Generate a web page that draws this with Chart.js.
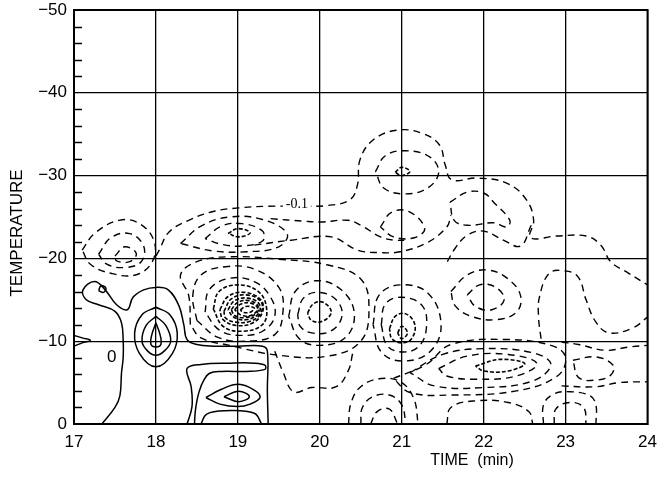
<!DOCTYPE html>
<html>
<head>
<meta charset="utf-8">
<script src="https://cdn.jsdelivr.net/npm/chart.js@4.4.1/dist/chart.umd.min.js"></script>
<style>
html, body { margin: 0; padding: 0; background: #fff; }
</style>
</head>
<body>
<canvas id="contour" width="665" height="489"></canvas>
<script>
// axis ticks
var timeTicks = [17, 18, 19, 20, 21, 22, 23, 24];
var tempTicks = [0, -10, -20, -30, -40, -50];

// solid (zero / positive) contours, [time, temperature]
var zeroContour = [[17.34,0],[17.5,-2],[17.56,-3.4],[17.58,-6.2],[17.6,-8],[17.6,-10.1],[17.58,-12.2],[17.5,-13.6],[17.3,-14.4],[17.15,-15],[17.11,-16.2],[17.25,-17.2],[17.38,-16.2],[17.52,-14.4],[17.65,-13.8],[17.72,-15.3],[17.85,-16.2],[18.0,-16.5],[18.15,-16.2],[18.28,-14.3],[18.34,-12],[18.38,-10.2],[18.5,-9.6],[18.7,-9.4],[19.0,-9.4],[19.3,-9.4],[19.36,-8.8],[19.36,-4],[19.37,0]];
var leftWedge = [[17,-10.7],[17.1,-10.4],[17.2,-10.1],[17.1,-9.8],[17,-9.4]];
var tailBlob = [[17.3,-16.1],[17.33,-16.7],[17.39,-16.4],[17.36,-15.9],[17.3,-16.1]];
var peak18Ring1 = [[18,-14.1],[18.17,-13.2],[18.26,-11],[18.2,-8.5],[18,-6.9],[17.8,-8.5],[17.74,-11],[17.83,-13.2],[18,-14.1]];
var peak18Ring2 = [[18,-13],[18.12,-11.9],[18.18,-10],[18.1,-8.8],[18,-8.3],[17.9,-8.8],[17.83,-10],[17.88,-11.9],[18,-13]];
var peak18Eye = [[18,-12.2],[18.05,-10.8],[18.06,-9.6],[18,-9.3],[17.94,-9.6],[17.95,-10.8],[18,-12.2]];
var boxContour = [[18.38,0],[18.44,-2.1],[18.43,-4.5],[18.38,-6.7],[18.55,-7.2],[18.9,-7.35],[19.2,-7.35],[19.33,-7.1],[19.33,-6.6],[19.1,-6.35],[18.8,-6.35],[18.65,-6.1],[18.58,-5.2],[18.53,-4],[18.5,-2.8],[18.48,-1.5],[18.47,0]];
var diamondRing = [[18.61,-3.2],[18.8,-4.2],[19.01,-4.8],[19.2,-4.1],[19.27,-3.2],[19.15,-2.4],[19.0,-2.1],[18.78,-2.4],[18.61,-3.2]];
var diamondEye = [[18.83,-3.3],[19.01,-3.95],[19.14,-3.3],[19.01,-2.7],[18.83,-3.3]];
var bottomArc = [[18.55,0],[18.62,-1.2],[18.85,-1.6],[19.2,-1.3],[19.29,0]];

// dashed (negative) contours
var outerContour = [[18.0,-20.3],[18.04,-21],[18.16,-23.2],[18.4,-24.6],[18.71,-25.7],[19.01,-26.1],[19.37,-26.3],[19.74,-26.3],[20.1,-26.4],[20.37,-27.1],[20.46,-28.9],[20.49,-31.9],[20.65,-34.3],[20.95,-35.5],[21.25,-35.1],[21.46,-33.7],[21.53,-31.3],[21.61,-29.5],[21.92,-29.7],[22.28,-29.1],[22.52,-27.1],[22.61,-24.6],[22.57,-22.5],[22.89,-22.7],[23.25,-22.7],[23.43,-21.6],[23.55,-19.6],[23.77,-18.2],[24,-16.8]];
var ring17a = [[17.1,-21],[17.25,-23],[17.55,-24.6],[17.8,-24.2],[17.98,-22],[17.95,-19.5],[17.75,-18],[17.45,-18.2],[17.2,-19.3],[17.1,-21]];
var ring17b = [[17.3,-20.5],[17.45,-22.5],[17.68,-23],[17.85,-21.5],[17.82,-19.6],[17.62,-18.9],[17.4,-19.3],[17.3,-20.5]];
var ring17c = [[17.5,-20.3],[17.62,-21.4],[17.76,-20.6],[17.68,-19.6],[17.52,-19.7],[17.5,-20.3]];
var ring19topA = [[18.3,-21.8],[18.55,-23.9],[18.9,-25],[19.3,-24.7],[19.6,-23],[19.5,-21.4],[19.1,-20.8],[18.7,-20.9],[18.3,-21.8]];
var ring19topB = [[18.6,-22.4],[18.8,-23.9],[19.05,-24.2],[19.3,-23.3],[19.3,-22.1],[19.05,-21.5],[18.8,-21.7],[18.6,-22.4]];
var ring19topC = [[18.88,-23],[19.0,-23.6],[19.15,-23.1],[19.02,-22.6],[18.88,-23]];
var arc20upper = [[19.4,-24.8],[19.8,-24.5],[20.02,-24.4],[20.34,-24.6],[20.5,-24],[20.74,-22.6],[20.91,-22.2],[21.03,-22.2]];
var arc20lower = [[19.2,-21.6],[19.65,-22.2],[20.14,-22.6],[20.46,-21],[20.74,-20.7],[20.98,-20.8],[21.31,-21.9],[21.55,-23.8],[21.6,-25.2]];
var ring21top = [[20.68,-30.5],[20.8,-32.4],[21.05,-33],[21.35,-32.2],[21.45,-30.3],[21.3,-28.4],[21.02,-27.8],[20.78,-28.5],[20.68,-30.5]];
var ring21topEye = [[20.92,-30.4],[21.0,-31.0],[21.1,-30.5],[21.0,-30.0],[20.92,-30.4]];
var ring21mid = [[20.74,-23.8],[20.88,-25.6],[21.1,-25.6],[21.28,-23.6],[21.15,-22.5],[20.9,-22.6],[20.74,-23.8]];
var ring22top = [[21.59,-26.8],[21.8,-28],[22.0,-27.9],[22.13,-26.7],[22.32,-24.6],[22.28,-23.8],[22.12,-24.3],[21.8,-24],[21.64,-24.6],[21.59,-26.8]];
var arc22split = [[22.58,-24],[22.45,-21.5],[22.24,-22.2],[22.0,-23.3],[21.8,-22.8],[21.65,-21.2],[21.55,-19.5]];
var loop23 = [[22.7,-10.3],[22.67,-12.9],[22.68,-15.3],[22.8,-18.2],[22.98,-18.5],[23.15,-17.8],[23.25,-15],[23.37,-12.3],[23.53,-11],[23.82,-11.6],[24,-12.9]];
var ring22midA = [[21.6,-16],[21.8,-18],[22.05,-18.6],[22.3,-17.5],[22.45,-15.5],[22.4,-13.5],[22.15,-12.6],[21.85,-13],[21.65,-14.3],[21.6,-16]];
var ring22midB = [[21.8,-15.6],[21.95,-16.8],[22.15,-16.5],[22.25,-15],[22.1,-13.8],[21.9,-14.2],[21.8,-15.6]];
var wide19 = [[18.42,-12],[18.4,-15.5],[18.3,-18],[18.5,-19.6],[18.9,-20.2],[19.5,-19.9],[20.1,-19.2],[20.5,-17.5],[20.6,-14],[20.5,-10],[20.1,-8.2],[19.5,-8.3],[18.9,-9.5],[18.55,-10.4],[18.42,-12]];
var blob19A = [[18.5,-12.5],[18.45,-15.5],[18.55,-18],[18.85,-19],[19.2,-18.7],[19.5,-16.5],[19.55,-13.5],[19.45,-10.8],[19.1,-10],[18.75,-10.5],[18.5,-12.5]];
var blob19B = [[18.6,-13.5],[18.65,-16.2],[18.9,-17.6],[19.2,-17.2],[19.4,-15.3],[19.45,-13],[19.3,-11.2],[19.05,-10.7],[18.78,-11.3],[18.6,-13.5]];
var blob19C = [[18.7,-13.9],[18.77,-16],[19,-16.8],[19.25,-16],[19.35,-14],[19.3,-12],[19.05,-11.2],[18.82,-11.8],[18.7,-13.9]];
var blob19D = [[18.78,-13.8],[18.88,-15.4],[19.08,-15.9],[19.28,-15],[19.3,-13.5],[19.18,-12.2],[18.98,-11.9],[18.82,-12.6],[18.78,-13.8]];
var blob19E = [[18.88,-13.8],[18.96,-14.9],[19.12,-15.2],[19.26,-14.5],[19.25,-13.3],[19.1,-12.6],[18.95,-12.9],[18.88,-13.8]];
var blob19F = [[18.96,-13.8],[19.04,-14.5],[19.16,-14.6],[19.24,-14],[19.18,-13.2],[19.05,-13.1],[18.96,-13.8]];
var blob19G = [[19.03,-13.8],[19.1,-14.2],[19.2,-14],[19.15,-13.5],[19.06,-13.5],[19.03,-13.8]];
var blob19H = [[18.83,-13.6],[18.92,-15.1],[19.1,-15.6],[19.28,-14.8],[19.28,-13.4],[19.15,-12.4],[18.97,-12.3],[18.85,-12.8],[18.83,-13.6]];
var blob19I = [[18.92,-13.8],[19.0,-14.7],[19.14,-14.9],[19.25,-14.2],[19.22,-13.3],[19.08,-12.85],[18.96,-13.1],[18.92,-13.8]];
var ring20A = [[19.62,-13],[19.7,-16],[19.95,-17.3],[20.25,-16.3],[20.42,-13.5],[20.32,-10.5],[20.0,-9.5],[19.75,-10.3],[19.62,-13]];
var ring20B = [[19.73,-13.2],[19.8,-15.2],[19.98,-15.9],[20.2,-15],[20.27,-13],[20.13,-11.2],[19.9,-11],[19.76,-11.8],[19.73,-13.2]];
var ring20C = [[19.85,-13.4],[19.92,-14.5],[20.04,-14.7],[20.14,-13.5],[20.03,-12.4],[19.9,-12.5],[19.85,-13.4]];
var bulge20 = [[19.45,-8.8],[19.55,-6.3],[19.68,-3.9],[19.9,-4.4],[20.2,-4.5],[20.35,-6.5],[20.4,-8.5]];
var ring21A = [[20.65,-12],[20.72,-15.5],[20.98,-16.8],[21.32,-15.8],[21.48,-12],[21.35,-8.8],[21.02,-7.6],[20.75,-8.7],[20.65,-12]];
var ring21B = [[20.75,-12],[20.8,-14.5],[21,-15.3],[21.25,-14.3],[21.3,-11.5],[21.2,-9.3],[21,-8.7],[20.82,-9.5],[20.75,-12]];
var ring21C = [[20.85,-11.5],[20.92,-13],[21.05,-13.3],[21.16,-12],[21.12,-10.3],[21,-9.8],[20.88,-10.3],[20.85,-11.5]];
var ring21D = [[20.95,-11],[21,-11.8],[21.07,-11],[21,-10.3],[20.95,-11]];
var bandA = [[20.9,-5.5],[21.3,-7.2],[21.6,-9.6],[22.3,-10.2],[22.85,-9.4],[23.0,-8],[22.9,-5.8],[22.4,-4],[21.6,-3.5],[21.1,-3.8],[20.9,-5.5]];
var bandB = [[21.1,-6.2],[21.5,-8.4],[22,-9.1],[22.6,-8.6],[22.82,-7.2],[22.6,-5.2],[22,-4.4],[21.4,-4.6],[21.1,-6.2]];
var bandC = [[21.45,-6.7],[21.8,-8.2],[22.3,-8.4],[22.65,-7.3],[22.4,-5.8],[21.9,-5.4],[21.55,-5.8],[21.45,-6.7]];
var bandD = [[21.9,-7],[22.2,-7.8],[22.5,-7.3],[22.3,-6.4],[22,-6.4],[21.9,-7]];
var ring23low = [[23.09,-7.7],[23.37,-8.1],[23.58,-7.1],[23.55,-5.9],[23.37,-5.3],[23.16,-5.6],[23.09,-7.7]];
var rightUpper = [[22.95,-9.9],[23.16,-9.6],[23.49,-8.9],[23.77,-9.3],[24,-9.5]];
var rightLower = [[22.95,-4.6],[23.37,-4.5],[23.65,-5],[24,-5.1]];
var cup23A = [[22.73,0],[22.73,-2.3],[22.85,-3.6],[23.05,-3.9],[23.3,-3.4],[23.37,-2.3],[23.37,0]];
var cup23B = [[22.86,0],[22.88,-1.8],[23.05,-2.6],[23.22,-2],[23.25,0]];
var cup22 = [[21.55,0],[21.6,-2],[21.9,-2.8],[22.3,-2.6],[22.55,-1.5],[22.6,0]];
var cup21A = [[20.35,0],[20.38,-2.5],[20.5,-4.5],[20.75,-5.5],[21.0,-5],[21.15,-3],[21.2,0]];
var cup21B = [[20.5,0],[20.52,-2],[20.65,-3.3],[20.85,-3.5],[21.0,-2.3],[21.05,0]];
var cup21C = [[20.62,0],[20.7,-1.5],[20.85,-1.8],[20.95,0]];

var solidContours = [zeroContour, leftWedge, tailBlob, peak18Ring1, peak18Ring2, peak18Eye, boxContour, diamondRing, diamondEye, bottomArc];
var dashedContours = [outerContour, ring17a, ring17b, ring17c, ring19topA, ring19topB, arc20upper, arc20lower, ring21top, ring21mid,
  ring22top, arc22split, loop23, ring22midA, ring22midB, wide19, blob19A, blob19B, ring20A, ring20B, bulge20, ring21A, ring21B,
  bandA, bandB, bandC, ring23low, rightUpper, rightLower, cup23A, cup23B, cup22, cup21A, cup21B, cup21C];
var fineDashContours = [ring19topC, ring21topEye, blob19C, blob19D, blob19E, blob19F, blob19G, blob19H, blob19I, ring20C, ring21C, ring21D, bandD];

// contour labels
var zeroLabel = { text: '0', at: [17.46, -8.1] };
var levelLabel = { text: '-0.1', at: [19.72, -26.5] };

function toPoints(arr) {
  return arr.map(function(p) { return { x: p[0], y: p[1] }; });
}

var datasets = [];
solidContours.forEach(function(c) {
  datasets.push({ data: toPoints(c), showLine: true, borderColor: '#000', borderWidth: 1.5, pointRadius: 0, tension: 0.4 });
});
dashedContours.forEach(function(c) {
  datasets.push({ data: toPoints(c), showLine: true, borderColor: '#000', borderWidth: 1.4, borderDash: [7, 5], pointRadius: 0, tension: 0.4 });
});
fineDashContours.forEach(function(c) {
  datasets.push({ data: toPoints(c), showLine: true, borderColor: '#000', borderWidth: 1.6, borderDash: [4, 2], pointRadius: 0, tension: 0.4 });
});

var framePlugin = {
  id: 'frame',
  afterDatasetsDraw: function(chart) {
    var ctx = chart.ctx, a = chart.chartArea;
    var xs = chart.scales.x, ys = chart.scales.y;
    ctx.save();
    ctx.strokeStyle = '#000';
    ctx.lineWidth = 2;
    ctx.strokeRect(a.left, a.top, a.right - a.left, a.bottom - a.top);
    // minor ticks on the left axis
    ctx.lineWidth = 1.5;
    for (var v = -48; v < 0; v += 2) {
      if (v % 10 === 0) continue;
      var py = Math.round(ys.getPixelForValue(v)) + 0.5;
      ctx.beginPath();
      ctx.moveTo(a.left, py);
      ctx.lineTo(a.left + 8, py);
      ctx.stroke();
    }
    ctx.fillStyle = '#000';
    ctx.textAlign = 'center';
    ctx.textBaseline = 'middle';
    ctx.font = '17px "Liberation Sans"';
    ctx.fillText(zeroLabel.text, xs.getPixelForValue(zeroLabel.at[0]), ys.getPixelForValue(zeroLabel.at[1]));
    var lx = xs.getPixelForValue(levelLabel.at[0]), ly = ys.getPixelForValue(levelLabel.at[1]);
    ctx.fillStyle = '#fff';
    ctx.fillRect(lx - 14, ly - 7, 28, 14);
    ctx.fillStyle = '#000';
    ctx.font = '14px "Liberation Serif"';
    ctx.fillText(levelLabel.text, lx, ly);
    // axis titles
    ctx.font = '16px "Liberation Sans"';
    ctx.fillText('TIME  (min)', 472, 461);
    ctx.translate(17, 233);
    ctx.rotate(-Math.PI / 2);
    ctx.font = '17px "Liberation Sans"';
    ctx.fillText('TEMPERATURE', 0, 0);
    ctx.restore();
  }
};

new Chart(document.getElementById('contour').getContext('2d'), {
  type: 'scatter',
  data: { datasets: datasets },
  options: {
    responsive: false,
    animation: false,
    layout: { padding: { left: 0, right: 13, top: 10, bottom: 0 } },
    plugins: { legend: { display: false }, tooltip: { enabled: false } },
    scales: {
      x: {
        type: 'linear', min: 17, max: 24,
        afterFit: function(s) { s.height = 65; },
        afterBuildTicks: function(s) { s.ticks = timeTicks.map(function(v) { return { value: v }; }); },
        grid: { color: '#000', lineWidth: 1.3, drawTicks: false },
        border: { color: '#000', width: 2 },
        ticks: { color: '#000', padding: 8, font: { family: 'Liberation Sans', size: 17 },
          callback: function(v) { return String(v); } }
      },
      y: {
        type: 'linear', min: -50, max: 0, reverse: true,
        afterFit: function(s) { s.width = 74; },
        afterBuildTicks: function(s) { s.ticks = tempTicks.map(function(v) { return { value: v }; }); },
        grid: { color: '#000', lineWidth: 1.3, drawTicks: false },
        border: { color: '#000', width: 2 },
        ticks: { color: '#000', padding: 7, font: { family: 'Liberation Sans', size: 17, lineHeight: 0.3 },
          callback: function(v) { return v === 0 ? '0' : '\u2212' + Math.abs(v); } }
      }
    }
  },
  plugins: [framePlugin]
});
</script>
</body>
</html>
